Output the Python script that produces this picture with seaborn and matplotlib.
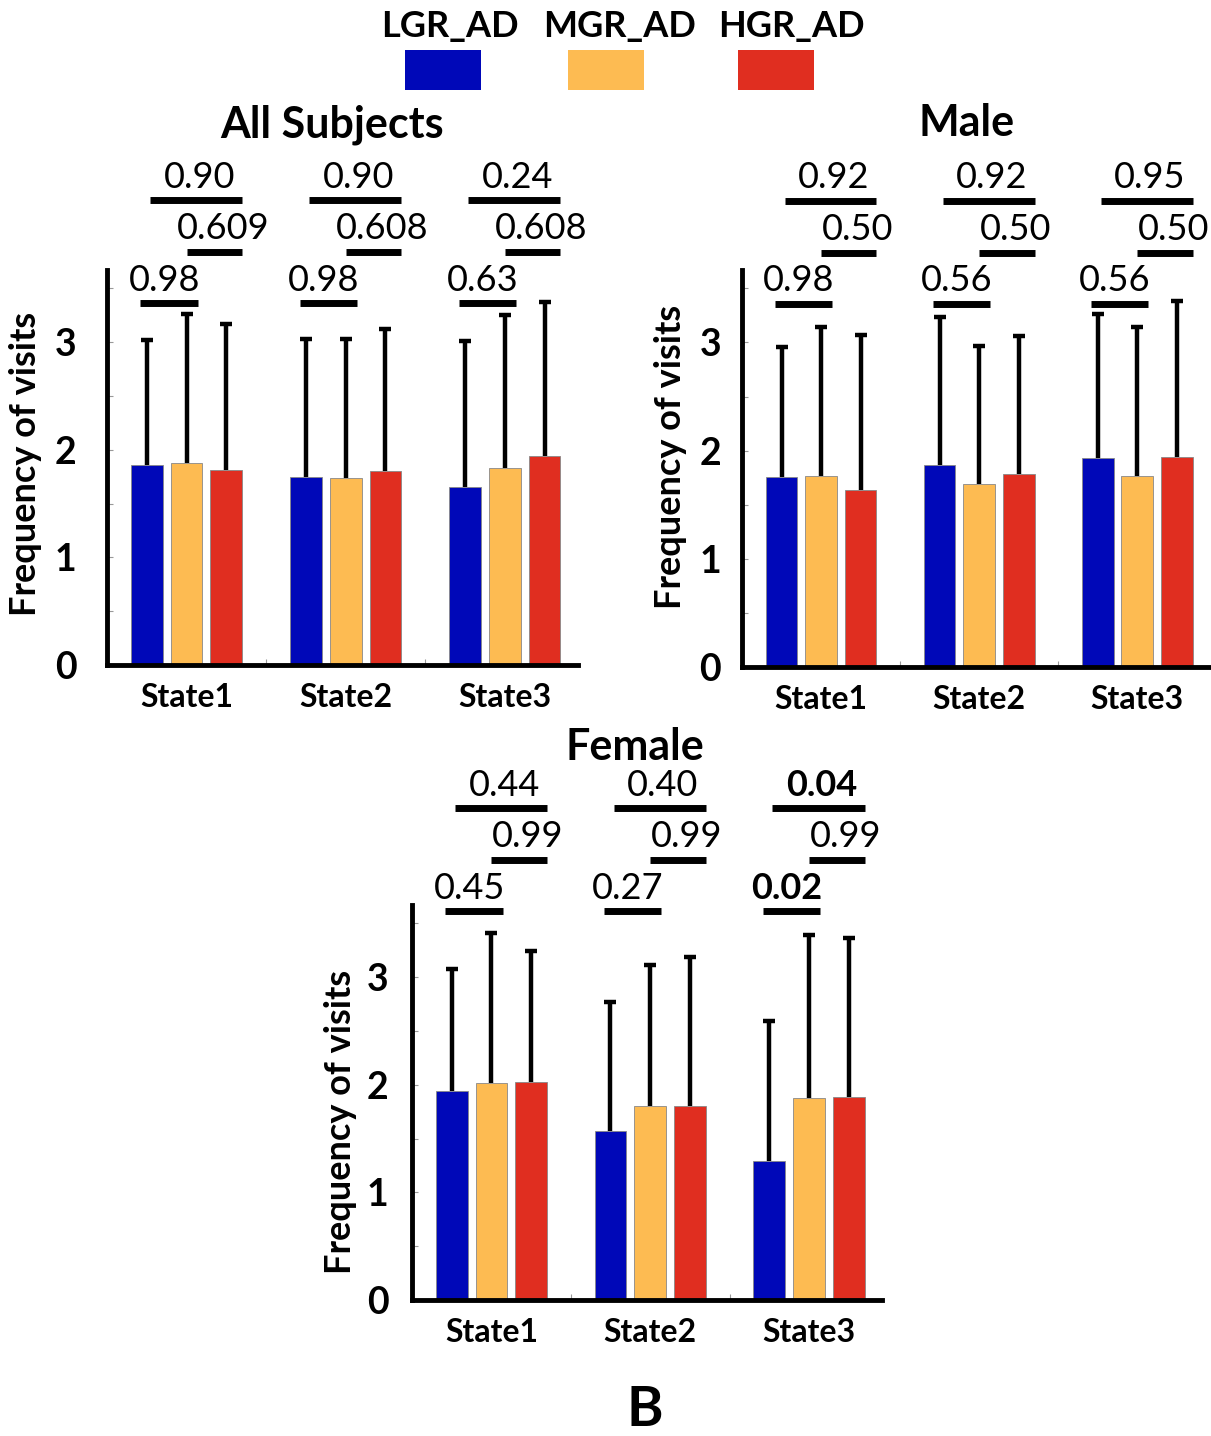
import numpy as np
import pandas as pd
import seaborn as sns
import matplotlib.pyplot as plt
from matplotlib.patches import Rectangle
from matplotlib.ticker import MultipleLocator

# categories
states = ['State1', 'State2', 'State3']
groups = ['LGR_AD', 'MGR_AD', 'HGR_AD']
colors = ['#0008B8', '#FDBB52', '#E02E20']

# mean frequency of visits, one row per state: [LGR, MGR, HGR]
all_mean = [[1.86, 1.88, 1.81], [1.75, 1.74, 1.80], [1.65, 1.83, 1.94]]
all_sd = [[1.16, 1.38, 1.36], [1.28, 1.29, 1.32], [1.36, 1.42, 1.43]]
male_mean = [[1.76, 1.77, 1.64], [1.87, 1.69, 1.78], [1.93, 1.77, 1.94]]
male_sd = [[1.20, 1.37, 1.43], [1.37, 1.28, 1.28], [1.33, 1.37, 1.44]]
female_mean = [[1.94, 2.02, 2.03], [1.57, 1.80, 1.80], [1.29, 1.88, 1.89]]
female_sd = [[1.14, 1.39, 1.21], [1.20, 1.31, 1.39], [1.30, 1.51, 1.47]]

# p-values per state: [L vs M, M vs H, L vs H]
all_p = [['0.98', '0.609', '0.90'], ['0.98', '0.608', '0.90'], ['0.63', '0.608', '0.24']]
male_p = [['0.98', '0.50', '0.92'], ['0.56', '0.50', '0.92'], ['0.56', '0.50', '0.95']]
female_p = [['0.45', '0.99', '0.44'], ['0.27', '0.99', '0.40'], ['0.02', '0.99', '0.04']]

W, H = 1211, 1436

sns.set_style('ticks')
plt.rcParams['font.family'] = ['Lato', 'DejaVu Sans']
plt.rcParams['text.color'] = 'black'
plt.rcParams['axes.labelcolor'] = 'black'

fig = plt.figure(figsize=(W / 100, H / 100), dpi=100)


def px_axes(left, top, right, bottom):
    return fig.add_axes([left / W, 1 - bottom / H, (right - left) / W, (bottom - top) / H])


def draw_panel(ax, means, sds, pvals, levels, title, title_xy, ylab_xy, ypad):
    df = pd.DataFrame([(s, g, means[i][j], sds[i][j])
                       for i, s in enumerate(states) for j, g in enumerate(groups)],
                      columns=['state', 'group', 'mean', 'sd'])
    sns.barplot(data=df, x='state', y='mean', hue='group', hue_order=groups,
                palette=colors, saturation=1, width=0.75, gap=0.2, errorbar=None,
                edgecolor='#888888', linewidth=0.6, legend=False, ax=ax)

    # upper error bars only
    bar_conts = list(ax.containers)
    for j, cont in enumerate(bar_conts):
        sub = df[df['group'] == groups[j]].set_index('state')
        for bar, s in zip(cont, states):
            x = bar.get_x() + bar.get_width() / 2
            top = bar.get_height() + sub.loc[s, 'sd']
            ax.vlines(x, bar.get_height(), top, color='black', lw=3.2, zorder=3)
            ax.plot(x, top, marker='_', ms=9, mew=3.2, color='black', zorder=3)

    # significance brackets
    spans = [(-0.29, 0.07), (0.0, 0.35), (-0.23, 0.35)]
    text_x = [-0.14, 0.23, 0.08]
    for i in range(len(states)):
        for k in range(3):
            x0, x1 = spans[k]
            y = levels[k]
            ax.plot([i + x0, i + x1], [y, y], color='black', lw=5,
                    solid_capstyle='butt', clip_on=False)
            p = pvals[i][k]
            ax.text(i + text_x[k], y + 0.06, p, ha='center', va='bottom',
                    fontsize=26, fontweight='bold' if float(p) < 0.05 else 'normal',
                    clip_on=False)

    ax.set_xlim(-0.5, 2.46)
    ax.set_ylim(0, 3.67)
    ax.set_yticks([0, 1, 2, 3])
    ax.set_yticklabels(['0', '1', '2', '3'], fontsize=27, fontweight='bold')
    ax.yaxis.set_minor_locator(MultipleLocator(0.5))
    ax.tick_params(axis='y', which='both', direction='in', length=4, width=0.8,
                   color='#999999', labelcolor='black', pad=ypad)
    ax.set_xticks(range(3))
    ax.set_xticklabels(states, fontsize=23, fontweight='bold')
    ax.set_xticks([0.5, 1.5], minor=True)
    ax.tick_params(axis='x', which='major', length=0, pad=13, labelcolor='black')
    ax.tick_params(axis='x', which='minor', direction='in', length=4, width=0.8,
                   color='#999999')
    ax.set_xlabel('')
    ax.set_ylabel('Frequency of visits', fontsize=26, fontweight='bold')
    ax.yaxis.set_label_coords(*ylab_xy)
    for sp in ['top', 'right']:
        ax.spines[sp].set_visible(False)
    for sp in ['left', 'bottom']:
        ax.spines[sp].set_linewidth(3.5)
        ax.spines[sp].set_color('black')
    fig.text(title_xy[0] / W, 1 - title_xy[1] / H, title, ha='center', va='center',
             fontsize=31, fontweight='bold')


ax1 = px_axes(107, 270, 578, 665)
draw_panel(ax1, all_mean, all_sd, all_p, [3.36, 3.84, 4.32], 'All Subjects',
           (332, 125), (-0.138, 0.51), 22)

ax2 = px_axes(742, 270, 1210, 667)
draw_panel(ax2, male_mean, male_sd, male_p, [3.36, 3.83, 4.31], 'Male',
           (967, 123), (-0.117, 0.53), 15)

ax3 = px_axes(412, 905, 882, 1300)
draw_panel(ax3, female_mean, female_sd, female_p, [3.61, 4.09, 4.57], 'Female',
           (635, 747), (-0.117, 0.45), 17)

# legend: label above colour block
leg_x = [443, 606, 776]
leg_label_x = [450, 620, 791]
for g, c, x, lx in zip(groups, colors, leg_x, leg_label_x):
    fig.add_artist(Rectangle((x / W - 38 / W, 1 - 90 / H), 76 / W, 40 / H,
                             transform=fig.transFigure, facecolor=c, edgecolor='none'))
    fig.text(lx / W, 1 - 26 / H, g, ha='center', va='center', fontsize=26,
             fontweight='bold')

fig.text(645 / W, 1 - 1410 / H, 'B', ha='center', va='center', fontsize=40,
         fontweight='bold')

fig.savefig('out.png', dpi=100)
